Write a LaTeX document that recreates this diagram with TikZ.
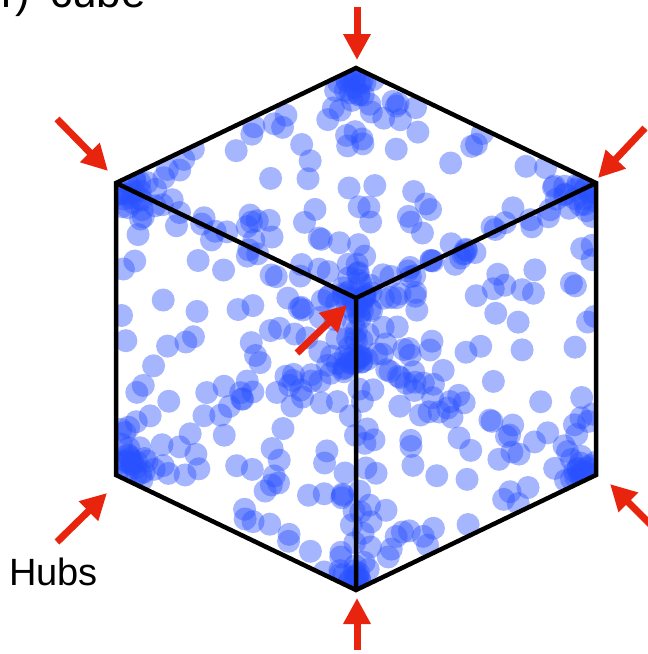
\documentclass[tikz,border=0pt]{standalone}
\usepackage{fontspec}
\setmainfont{Liberation Sans}
\usetikzlibrary{arrows.meta}
\definecolor{dotblue}{RGB}{40,80,255}
\definecolor{arrred}{RGB}{232,36,14}
\begin{document}
\begin{tikzpicture}[x=1pt,y=-1pt,
  dot/.style={fill=dotblue,fill opacity=0.42},
  cubeedge/.style={line width=4.5pt,line join=miter,black},
  hubarrow/.style={arrred,line width=7pt,-{Triangle[length=26pt,width=26pt]}},
  lbl/.style={font=\fontsize{38}{38}\selectfont,inner sep=0pt},
  ttl/.style={font=\fontsize{44}{44}\selectfont,inner sep=0pt}]
\useasboundingbox (0,0) rectangle (648,654);
\clip (0,0) rectangle (648,654);

\coordinate (C) at (356,298);
\coordinate (UL) at (116,183);
\coordinate (UR) at (596,183);
\coordinate (T) at (356,68);
\coordinate (LL) at (116,475);
\coordinate (LR) at (596,475);
\coordinate (B) at (356,590);

\pgfmathsetseed{4711}
\begin{scope}
\clip (UL)--(T)--(UR)--(LR)--(B)--(LL)--cycle;
% uniform points in the cube
\foreach \i in {1,...,200}{
  \pgfmathsetmacro\px{rnd}\pgfmathsetmacro\py{rnd}\pgfmathsetmacro\pz{rnd}
  \fill[dot] ({356-240*\px+240*\py},{298-115*\px-115*\py+292*\pz}) circle (11.5pt);
}
% hubs at the eight vertices
\foreach \vx/\vy/\vz in {0/0/0,1/0/0,0/1/0,0/0/1,1/1/0,1/0/1,0/1/1,1/1/1}{
  \foreach \i in {1,...,16}{
    \pgfmathsetmacro\px{\vx+(1-2*\vx)*0.14*rnd*rnd}
    \pgfmathsetmacro\py{\vy+(1-2*\vy)*0.14*rnd*rnd}
    \pgfmathsetmacro\pz{\vz+(1-2*\vz)*0.14*rnd*rnd}
    \fill[dot] ({356-240*\px+240*\py},{298-115*\px-115*\py+292*\pz}) circle (11.5pt);
  }
}
% points along the twelve edges
\foreach \ea/\eb in {0/0,0/1,1/0,1/1}{
  \foreach \i in {1,...,15}{
    \pgfmathsetmacro\px{rnd}
    \pgfmathsetmacro\py{\ea+(1-2*\ea)*0.07*rnd}
    \pgfmathsetmacro\pz{\eb+(1-2*\eb)*0.07*rnd}
    \fill[dot] ({356-240*\px+240*\py},{298-115*\px-115*\py+292*\pz}) circle (11.5pt);
    \pgfmathsetmacro\py{rnd}
    \pgfmathsetmacro\px{\ea+(1-2*\ea)*0.07*rnd}
    \pgfmathsetmacro\pz{\eb+(1-2*\eb)*0.07*rnd}
    \fill[dot] ({356-240*\px+240*\py},{298-115*\px-115*\py+292*\pz}) circle (11.5pt);
    \pgfmathsetmacro\pz{rnd}
    \pgfmathsetmacro\px{\ea+(1-2*\ea)*0.07*rnd}
    \pgfmathsetmacro\py{\eb+(1-2*\eb)*0.07*rnd}
    \fill[dot] ({356-240*\px+240*\py},{298-115*\px-115*\py+292*\pz}) circle (11.5pt);
  }
}
\end{scope}

% cube edges
\draw[cubeedge] (UL)--(T)--(UR)--(LR)--(B)--(LL)--cycle;
\draw[cubeedge] (UL)--(C)--(UR) (C)--(B);

% arrows pointing at the hubs
\coordinate (aTs) at (357,7);    \coordinate (aTe) at (357,60);
\coordinate (aULs) at (57,119);  \coordinate (aULe) at (108,171);
\coordinate (aURs) at (645,128); \coordinate (aURe) at (598,178);
\coordinate (aCs) at (297,353);  \coordinate (aCe) at (347,305);
\coordinate (aLLs) at (57,542);  \coordinate (aLLe) at (107,493);
\coordinate (aLRs) at (664,538); \coordinate (aLRe) at (610,484);
\coordinate (aBs) at (357,650);  \coordinate (aBe) at (357,598);
\foreach \a in {aT,aUL,aUR,aC,aLL,aLR,aB}{
  \draw[hubarrow] (\a s) -- (\a e);
}

\node[lbl,anchor=base west] (hubs) at (9,585) {Hubs};
\node[ttl,anchor=base east] (title) at (146,7) {r)\hspace{20pt}cube};
\end{tikzpicture}
\end{document}
